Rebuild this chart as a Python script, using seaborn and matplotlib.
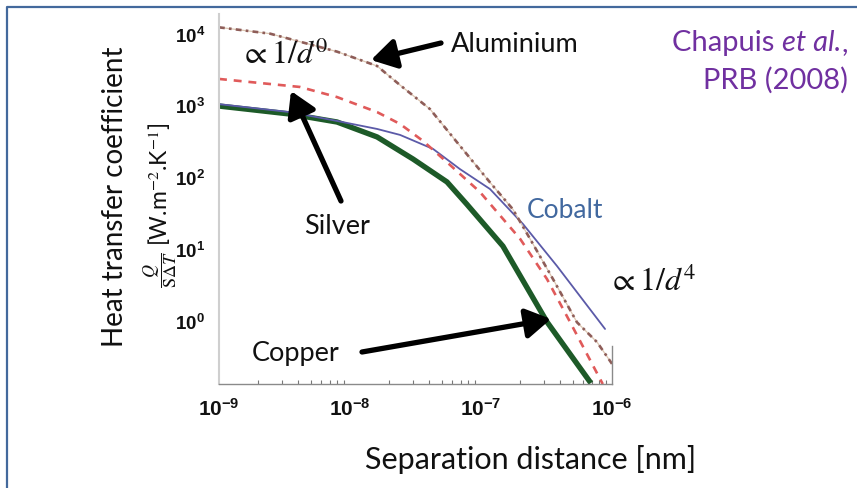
import numpy as np
import pandas as pd
import seaborn as sns
import matplotlib.pyplot as plt
from matplotlib.lines import Line2D
from matplotlib.ticker import FixedLocator, FuncFormatter, NullFormatter

sns.set_theme(style="white")
plt.rcParams["font.family"] = ["Lato", "DejaVu Sans"]
plt.rcParams["mathtext.fontset"] = "custom"
plt.rcParams["mathtext.rm"] = "Liberation Sans:bold"
plt.rcParams["mathtext.bf"] = "Liberation Sans:bold"
plt.rcParams["mathtext.it"] = "Liberation Sans:bold"

# Heat transfer coefficient vs separation distance (Chapuis et al., PRB 2008)
al_x = [1.0e-9, 2.45e-9, 7.96e-9, 1.61e-8, 2.41e-8, 4.08e-8, 6.56e-8, 1.17e-7,
        1.75e-7, 2.37e-7, 3.55e-7, 5.4e-7, 7.7e-7, 1.0e-6]
al_y = [12000, 9800, 5500, 3470, 1880, 870, 300, 83, 35, 13.5, 3.7, 0.93, 0.49, 0.245]

ag_x = [1.0e-9, 4.15e-9, 7.96e-9, 1.61e-8, 2.41e-8, 3.61e-8, 5.8e-8, 9.8e-8,
        1.99e-7, 3.19e-7, 4.78e-7, 8.5e-7]
ag_y = [2290, 1770, 1280, 790, 540, 313, 145, 61, 13.5, 3.72, 0.94, 0.128]

cu_x = [1.0e-9, 3.48e-9, 7.96e-9, 1.61e-8, 3.03e-8, 5.5e-8, 7.8e-8, 1.47e-7,
        3.19e-7, 6.9e-7]
cu_y = [960, 743, 575, 356, 175, 84, 41, 10.7, 0.94, 0.132]

co_x = [1.0e-9, 3.48e-9, 7.96e-9, 1.61e-8, 2.41e-8, 4.31e-8, 6.9e-8, 1.17e-7,
        2.09e-7, 3.8e-7, 8.85e-7]
co_y = [1020, 790, 595, 460, 380, 242, 127, 67, 21.8, 5.66, 0.75]

x_ticks = [1e-9, 1e-8, 1e-7, 1e-6]
y_ticks = [1e0, 1e1, 1e2, 1e3, 1e4]

W, H = 857, 489
fig = plt.figure(figsize=(W / 100, H / 100), dpi=100)
fig.patch.set_facecolor("white")


def fx(x):
    return x / W


def fy(y):
    return 1 - y / H


# slide frame (left and top edges)
fig.add_artist(Line2D([fx(7), fx(7), 1.0], [0.0, fy(8), fy(8)],
                      transform=fig.transFigure, color="#43699c", lw=1.6))

ax = fig.add_axes([fx(219), fy(385), fx(612) - fx(219), fy(15) - fy(385)])
ax.set_facecolor("white")
ax.set_xscale("log")
ax.set_yscale("log")

sns.lineplot(x=cu_x, y=cu_y, ax=ax, color="#1d5a28", lw=3.9, solid_capstyle="butt")
sns.lineplot(x=co_x, y=co_y, ax=ax, color="#5b5aa8", lw=1.3)
sns.lineplot(x=ag_x, y=ag_y, ax=ax, color="#e05a5a", lw=1.9, linestyle=(0, (3.0, 2.6)))
sns.lineplot(x=al_x, y=al_y, ax=ax, color="#dcc6b2", lw=0.9)
sns.lineplot(x=al_x, y=al_y, ax=ax, color="#8e5d58", lw=1.9,
             linestyle=(0, (2.2, 1.6, 1.0, 1.6)))

ax.set_xlim(1e-9, 1e-6)
ax.set_ylim(10 ** -0.892, 10 ** 4.265)

ax.xaxis.set_major_locator(FixedLocator(x_ticks))
ax.yaxis.set_major_locator(FixedLocator(y_ticks))
fmt = FuncFormatter(lambda v, p: r"$\mathbf{10^{%d}}$" % round(np.log10(v)))
ax.xaxis.set_major_formatter(fmt)
ax.yaxis.set_major_formatter(fmt)
ax.xaxis.set_minor_formatter(NullFormatter())
ax.yaxis.set_minor_formatter(NullFormatter())
ax.yaxis.set_minor_locator(FixedLocator([]))

ax.tick_params(axis="x", which="major", direction="in", length=5, width=0.8,
               color="#666666", pad=9, labelsize=15, labelcolor="#111111")
ax.tick_params(axis="x", which="minor", direction="in", length=3, width=0.8,
               color="#777777", bottom=True)
ax.tick_params(axis="y", which="major", length=0, pad=10, labelsize=13.5,
               labelcolor="#111111")

ax.spines["top"].set_visible(False)
ax.spines["left"].set_color("#cfcfcf")
ax.spines["left"].set_linewidth(1.5)
ax.spines["bottom"].set_color("#8a8a8a")
ax.spines["bottom"].set_linewidth(1.0)
ax.spines["right"].set_color("#8a8a8a")
ax.spines["right"].set_linewidth(1.0)
ax.spines["right"].set_bounds(10 ** -0.892, 0.43)

# axis titles
fig.text(fx(531), fy(460), "Separation distance [nm]", ha="center", va="center",
         fontsize=22, color="#111111")
fig.text(fx(115), fy(197), "Heat transfer coefficient", ha="center", va="center",
         rotation=90, fontsize=20, color="#111111")
fig.text(fx(160), fy(270), r"$\dfrac{Q}{\mathrm{S}\Delta T}$", ha="center", va="center",
         rotation=90, fontsize=13, color="#111111", math_fontfamily="stix")
fig.text(fx(160), fy(184), r"[W.m$^{\mathrm{-2}}$.K$^{\mathrm{-1}}$]",
         ha="center", va="center", rotation=90, fontsize=16.5, color="#111111",
         math_fontfamily="stix")

# curve labels
fig.text(fx(451), fy(44), "Aluminium", ha="left", va="center", fontsize=19.5, color="#111111")
fig.text(fx(304), fy(227), "Silver", ha="left", va="center", fontsize=19.5, color="#111111")
fig.text(fx(527), fy(211), "Cobalt", ha="left", va="center", fontsize=19, color="#41689f")
fig.text(fx(252), fy(354), "Copper", ha="left", va="center", fontsize=19.5, color="#111111")

# scaling laws
fig.text(fx(240), fy(55), r"$\propto 1/d^{0}$", ha="left", va="center", fontsize=23,
         color="#111111", math_fontfamily="stix")
fig.text(fx(608), fy(282), r"$\propto 1/d^{4}$", ha="left", va="center", fontsize=23,
         color="#111111", math_fontfamily="stix")

# reference note
purple = "#7030a0"
renderer = fig.canvas.get_renderer()
t_comma = fig.text(fx(848), fy(43), ",", ha="right", va="center", fontsize=21, color=purple)
ext = t_comma.get_window_extent(renderer)
t_it = fig.text(ext.x0 / W, fy(43), "et al.", ha="right", va="center", fontsize=21,
                color=purple, style="italic")
ext = t_it.get_window_extent(renderer)
fig.text(ext.x0 / W, fy(43), "Chapuis ", ha="right", va="center", fontsize=21, color=purple)
fig.text(fx(848), fy(80), "PRB (2008)", ha="right", va="center", fontsize=21, color=purple)

# arrows pointing to curves
arrow_kw = dict(arrowstyle="-|>,head_length=0.75,head_width=0.45", lw=3.8,
                color="black", mutation_scale=20, shrinkA=0, shrinkB=0)
for tail, head in [((441, 44), (371, 61)), ((341, 202), (291, 92)),
                   ((362, 353), (551, 320))]:
    ax.annotate("", xy=(fx(head[0]), fy(head[1])), xytext=(fx(tail[0]), fy(tail[1])),
                xycoords="figure fraction", textcoords="figure fraction",
                arrowprops=arrow_kw, annotation_clip=False)

fig.savefig("out.png", dpi=100, facecolor="white")
